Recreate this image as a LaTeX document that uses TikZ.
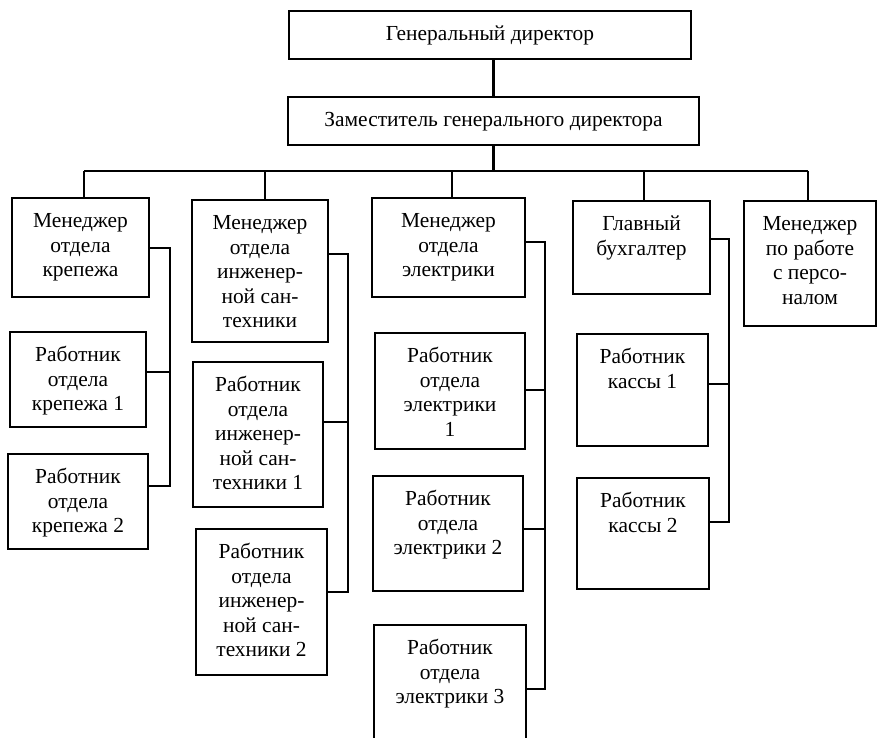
\documentclass[tikz,border=0pt]{standalone}
\usepackage{fontspec}
\setmainfont{Liberation Serif}

\tikzset{
  orgbox/.style={draw=black, line width=1.2pt, inner sep=0pt},
  orgtext/.style={anchor=north, inner sep=0pt, align=center,
                  font=\fontsize{12.2}{13.9}\selectfont},
  link/.style={draw=black, line width=1.2pt},
}

\begin{document}
\begin{tikzpicture}
  \useasboundingbox (0,0) rectangle (17.54,14.74);

  % Top level
  \node[orgbox, minimum width=8.04cm, minimum height=0.96cm] (gd) at (9.80,14.04) {};
  \node[orgtext] (gd-t) at ([yshift=-0.27cm]gd.north) {\strut Генеральный директор};
  \node[orgbox, minimum width=8.22cm, minimum height=0.96cm] (dep) at (9.87,12.32) {};
  \node[orgtext] (dep-t) at ([yshift=-0.27cm]dep.north) {\strut Заместитель генерального директора};

  % Managers
  \node[orgbox, minimum width=2.74cm, minimum height=1.98cm] (ma) at (1.61,9.79) {};
  \node[orgtext] (ma-t) at ([yshift=-0.27cm]ma.north) {\strut Менеджер\\отдела\\крепежа};
  \node[orgbox, minimum width=2.72cm, minimum height=2.84cm] (mb) at (5.20,9.32) {};
  \node[orgtext] (mb-t) at ([yshift=-0.27cm]mb.north) {\strut Менеджер\\отдела\\инженер-\\ной сан-\\техники};
  \node[orgbox, minimum width=3.06cm, minimum height=1.98cm] (mc) at (8.97,9.79) {};
  \node[orgtext] (mc-t) at ([yshift=-0.27cm]mc.north) {\strut Менеджер\\отдела\\электрики};
  \node[orgbox, minimum width=2.74cm, minimum height=1.86cm] (md) at (12.83,9.79) {};
  \node[orgtext] (md-t) at ([yshift=-0.27cm]md.north) {\strut Главный\\бухгалтер};
  \node[orgbox, minimum width=2.64cm, minimum height=2.50cm] (me) at (16.20,9.47) {};
  \node[orgtext] (me-t) at ([yshift=-0.27cm]me.north) {\strut Менеджер\\по работе\\с персо-\\налом};

  % Workers: fasteners
  \node[orgbox, minimum width=2.72cm, minimum height=1.90cm] (wa1) at (1.56,7.15) {};
  \node[orgtext] (wa1-t) at ([yshift=-0.27cm]wa1.north) {\strut Работник\\отдела\\крепежа 1};
  \node[orgbox, minimum width=2.80cm, minimum height=1.90cm] (wa2) at (1.56,4.71) {};
  \node[orgtext] (wa2-t) at ([yshift=-0.27cm]wa2.north) {\strut Работник\\отдела\\крепежа 2};

  % Workers: plumbing
  \node[orgbox, minimum width=2.60cm, minimum height=2.90cm] (wb1) at (5.16,6.05) {};
  \node[orgtext] (wb1-t) at ([yshift=-0.27cm]wb1.north) {\strut Работник\\отдела\\инженер-\\ной сан-\\техники 1};
  \node[orgbox, minimum width=2.62cm, minimum height=2.92cm] (wb2) at (5.23,2.70) {};
  \node[orgtext] (wb2-t) at ([yshift=-0.27cm]wb2.north) {\strut Работник\\отдела\\инженер-\\ной сан-\\техники 2};

  % Workers: electrics
  \node[orgbox, minimum width=3.00cm, minimum height=2.32cm] (wc1) at (9.00,6.92) {};
  \node[orgtext] (wc1-t) at ([yshift=-0.27cm]wc1.north) {\strut Работник\\отдела\\электрики\\1};
  \node[orgbox, minimum width=3.00cm, minimum height=2.30cm] (wc2) at (8.96,4.07) {};
  \node[orgtext] (wc2-t) at ([yshift=-0.27cm]wc2.north) {\strut Работник\\отдела\\электрики 2};
  \node[orgbox, minimum width=3.04cm, minimum height=2.40cm] (wc3) at (9.00,1.04) {};
  \node[orgtext] (wc3-t) at ([yshift=-0.27cm]wc3.north) {\strut Работник\\отдела\\электрики 3};

  % Workers: cash desk
  \node[orgbox, minimum width=2.62cm, minimum height=2.24cm] (wd1) at (12.85,6.94) {};
  \node[orgtext] (wd1-t) at ([yshift=-0.27cm]wd1.north) {\strut Работник\\кассы 1};
  \node[orgbox, minimum width=2.64cm, minimum height=2.22cm] (wd2) at (12.86,4.07) {};
  \node[orgtext] (wd2-t) at ([yshift=-0.27cm]wd2.north) {\strut Работник\\кассы 2};

  % Bus and drops
  \coordinate (dA) at (1.68,11.32);
  \coordinate (dB) at (5.30,11.32);
  \coordinate (dC) at (9.04,11.32);
  \coordinate (dD) at (12.88,11.32);
  \coordinate (dE) at (16.16,11.32);
  \draw[link] (dep.north) -- (dep.north |- gd.south);
  \draw[link] (dep.south) -- (dep.south |- dA);
  \draw[link] (dA) -- (dE);
  \draw[link] (dA) -- (dA |- ma.north);
  \draw[link] (dB) -- (dB |- mb.north);
  \draw[link] (dC) -- (dC |- mc.north);
  \draw[link] (dD) -- (dD |- md.north);
  \draw[link] (dE) -- (dE |- me.north);

  % Side spines
  \coordinate (jA)  at (3.40,9.78);
  \coordinate (jA1) at (3.40,7.30);
  \coordinate (jA2) at (3.40,5.02);
  \draw[link] (jA -| ma.east) -- (jA) -- (jA2) -- (jA2 -| wa2.east);
  \draw[link] (jA1 -| wa1.east) -- (jA1);

  \coordinate (jB)  at (6.96,9.66);
  \coordinate (jB1) at (6.96,6.30);
  \coordinate (jB2) at (6.96,2.90);
  \draw[link] (jB -| mb.east) -- (jB) -- (jB2) -- (jB2 -| wb2.east);
  \draw[link] (jB1 -| wb1.east) -- (jB1);

  \coordinate (jC)  at (10.90,9.90);
  \coordinate (jC1) at (10.90,6.94);
  \coordinate (jC2) at (10.90,4.16);
  \coordinate (jC3) at (10.90,0.96);
  \draw[link] (jC -| mc.east) -- (jC) -- (jC3) -- (jC3 -| wc3.east);
  \draw[link] (jC1 -| wc1.east) -- (jC1);
  \draw[link] (jC2 -| wc2.east) -- (jC2);

  \coordinate (jD)  at (14.58,9.96);
  \coordinate (jD1) at (14.58,7.06);
  \coordinate (jD2) at (14.58,4.30);
  \draw[link] (jD -| md.east) -- (jD) -- (jD2) -- (jD2 -| wd2.east);
  \draw[link] (jD1 -| wd1.east) -- (jD1);
\end{tikzpicture}
\end{document}
